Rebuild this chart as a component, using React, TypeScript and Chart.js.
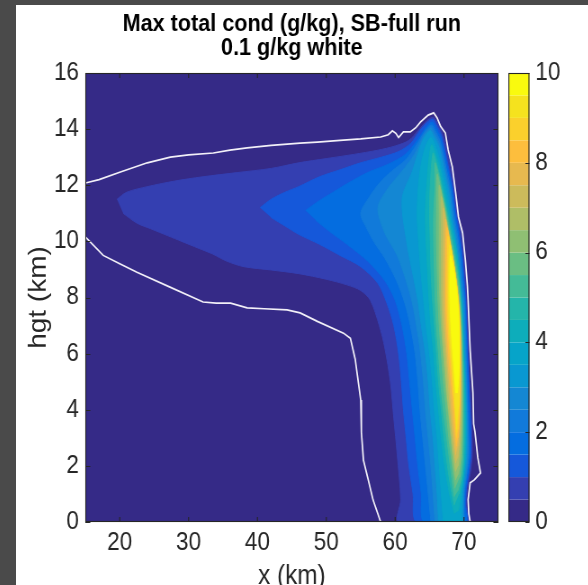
import React, { useEffect, useRef } from 'react';
import { Chart, registerables } from 'chart.js';

Chart.register(...registerables);

const FONT = "'Liberation Sans', Arial, Helvetica, sans-serif";
// the reference lettering is slightly condensed: the canvas is drawn wider and squeezed horizontally
const SQUEEZE = 0.9;
const CANVAS_W = 636;
const CANVAS_H = 580;

const titleLines = ['Max total cond (g/kg), SB-full run', '0.1 g/kg white'];
const xLabel = 'x (km)';
const yLabel = 'hgt (km)';

const xTicks = [20, 30, 40, 50, 60, 70];
const yTicks = [0, 2, 4, 6, 8, 10, 12, 14, 16];
const cbTicks = [0, 2, 4, 6, 8, 10];

// contour levels (lower bound of each filled band, g/kg)
const contourLevels = [0, 0.5, 1, 1.5, 2, 2.5, 3, 3.5, 4, 4.5, 5, 5.5, 6, 6.5, 7, 7.5, 8, 8.5, 9, 9.5];
// parula(20)
const levelColors = [
  '#352a87', '#343fb1', '#1558da', '#046de0', '#117ada', '#1487d3', '#0998d1', '#06a4c9', '#0dadbb', '#24b5aa',
  '#44bb97', '#6abe83', '#8fbf73', '#afbe67', '#ccbb5b', '#e7b94f', '#fdbe3d', '#fbd02c', '#f5e21e', '#f9fa0e',
];

// 0.1 g/kg contour (white)
const outerContour = [
  [15, 12.08], [17, 12.2], [20.1, 12.47], [24, 12.8], [27.35, 13.0], [30, 13.08], [33.6, 13.15], [36, 13.25],
  [38.5, 13.33], [42, 13.42], [46.2, 13.5], [48.7, 13.54], [52, 13.6], [55, 13.65], [57.9, 13.72], [59.0, 13.8],
  [59.6, 13.94], [60.1, 13.85], [60.5, 13.7], [61.2, 13.9], [62.2, 13.9], [63.0, 14.05], [63.7, 14.26], [64.8, 14.5],
  [65.6, 14.58], [66.1, 14.4], [66.6, 14.1], [67.3, 13.86], [67.7, 13.26], [68.3, 12.66], [68.8, 11.72], [69.2, 10.87],
  [69.8, 10.3], [70.2, 9.34], [70.5, 8.4], [70.6, 7.9], [70.9, 6.1], [71.3, 4.6], [71.4, 3.5], [71.6, 3.2],
  [72.0, 2.3], [72.4, 1.75], [71.5, 1.5], [70.9, 1.4], [70.6, 0.8], [70.7, 0.3], [70.9, 0],
];
const innerContour = [
  [15, 10.16], [17.6, 9.5], [20, 9.2], [22.5, 8.9], [27.3, 8.37], [32.1, 7.84], [34, 7.8], [36.1, 7.8],
  [38.5, 7.63], [41, 7.6], [44.3, 7.56], [46.2, 7.45], [48.7, 7.15], [52.5, 6.73], [53.5, 6.55], [54.2, 5.8],
  [55, 4.35], [55.1, 3.2], [55.4, 2.2], [56.1, 1.5], [56.8, 0.78], [57.9, 0],
];

// filled contour polygons, one per level
const c05 = [
  [19.6, 11.5], [21, 11.75], [24, 11.95], [28, 12.15], [32, 12.3], [37, 12.45], [42, 12.6], [46, 12.8], [50, 12.95],
  [54, 13.1], [57.5, 13.25], [60, 13.4], [62, 13.6], [63.5, 14.0], [64.6, 14.3], [65.5, 14.42], [66.1, 14.25],
  [66.8, 13.9], [67.4, 13.4], [67.9, 12.8], [68.5, 12.1], [68.9, 11.3], [69.4, 10.6], [69.9, 9.7], [70.2, 8.8],
  [70.4, 8.0], [70.6, 6.5], [70.85, 5.0], [71.1, 3.6], [71.2, 2.4], [70.9, 1.7], [70.5, 1.2], [70.4, 0.6], [70.5, 0],
  [60.5, 0], [60.8, 0.8], [60.3, 2.4], [59.8, 3.7], [59.3, 5.0], [58.5, 6.2], [57.7, 7.0], [56.4, 7.9], [55, 8.25],
  [53, 8.45], [50, 8.65], [46, 8.85], [42, 8.98], [38, 9.1], [35.5, 9.3], [33.5, 9.55], [31.5, 9.75], [29, 10.0],
  [27, 10.2], [24.5, 10.45], [22.5, 10.65], [20.5, 11.0],
];
const c10 = [
  [40.4, 11.2], [42, 11.5], [44, 11.75], [46, 11.95], [49, 12.3], [52, 12.55], [55, 12.8], [58, 13.0], [60.5, 13.2],
  [62.3, 13.5], [63.6, 13.95], [64.7, 14.25], [65.5, 14.35], [66.0, 14.15], [66.7, 13.8], [67.2, 13.3], [67.7, 12.7],
  [68.3, 12.0], [68.7, 11.2], [69.2, 10.5], [69.7, 9.6], [70.0, 8.7], [70.25, 7.9], [70.45, 6.5], [70.7, 5.0],
  [70.95, 3.6], [71.0, 2.4], [70.7, 1.7], [70.35, 1.2], [70.25, 0.6], [70.35, 0],
  [63.1, 0], [62.6, 1.0], [62.0, 2.0], [61.6, 3.0], [61.2, 4.0], [60.9, 5.0], [60.5, 6.0], [59.8, 7.0], [58.8, 7.8],
  [57.5, 8.5], [55, 9.1], [52, 9.5], [49, 9.9], [46, 10.25], [44, 10.55], [42, 10.85],
];
const c15 = [
  [47, 11.1], [49, 11.45], [51, 11.75], [53, 12.05], [56, 12.45], [59, 12.75], [61.5, 13.1], [63.2, 13.6],
  [64.6, 14.1], [65.4, 14.25], [65.9, 14.05], [66.6, 13.7], [67.1, 13.2], [67.6, 12.6], [68.2, 11.9], [68.6, 11.1],
  [69.1, 10.4], [69.6, 9.5], [69.9, 8.6], [70.15, 7.9], [70.35, 6.5], [70.6, 5.0], [70.75, 3.6], [70.85, 2.4],
  [70.55, 1.7], [70.2, 1.2], [70.1, 0.6], [70.2, 0],
  [64.2, 0], [63.8, 1], [63.3, 2], [62.9, 3], [62.5, 4], [62.1, 5], [61.7, 6], [61.0, 7], [60.0, 7.9], [58.5, 8.6],
  [56, 9.3], [53, 9.9], [50.5, 10.35], [48.5, 10.75],
];
const c20 = [
  [65.2, 0], [64.8, 1], [64.4, 2], [64.0, 3], [63.6, 4], [63.3, 5], [62.9, 6], [62.2, 7], [61.4, 7.8], [60.2, 8.6],
  [58.5, 9.4], [57, 9.95], [55.8, 10.5], [55, 11.0], [56.3, 11.6], [57.8, 12.1], [59.5, 12.5], [61.5, 12.9],
  [63, 13.4], [64.4, 13.95], [65.3, 14.15], [65.8, 13.95], [66.5, 13.6], [67.0, 13.1], [67.5, 12.5], [68.1, 11.8],
  [68.5, 11.0], [69.0, 10.3], [69.5, 9.4], [69.8, 8.5], [70.05, 7.9], [70.25, 6.5], [70.45, 5.0], [70.6, 3.6],
  [70.7, 2.4], [70.4, 1.7], [70.1, 1.2], [70.0, 0.6], [70.05, 0],
];
const c25 = [
  [65.8, 0], [65.5, 1], [65.2, 2], [64.8, 3], [64.4, 4], [64.1, 5], [63.7, 6], [63.1, 7], [62.5, 7.8], [61.6, 8.6],
  [60.3, 9.5], [58.5, 10.3], [57.5, 11.2], [59, 11.9], [61, 12.5], [62.8, 13.1], [64.2, 13.8], [65.2, 14.05],
  [65.7, 13.85], [66.4, 13.5], [66.9, 13.0], [67.4, 12.4], [68.0, 11.7], [68.4, 10.9], [68.9, 10.2], [69.4, 9.3],
  [69.7, 8.4], [69.95, 7.9], [70.15, 6.5], [70.35, 5.0], [70.5, 3.6], [70.55, 2.4], [70.3, 1.7], [70.0, 1.2],
  [69.9, 0.6], [69.95, 0],
];
const c30 = [
  [66.3, 0], [66.1, 1], [65.8, 2], [65.5, 3], [65.1, 4], [64.8, 5], [64.4, 6], [63.8, 7], [63.3, 7.9], [62.6, 8.8],
  [61.8, 9.8], [61, 11.5], [62.5, 12.5], [64.0, 13.6], [65.1, 13.95], [65.6, 13.75], [66.3, 13.4], [66.8, 12.9],
  [67.3, 12.3], [67.9, 11.6], [68.3, 10.8], [68.8, 10.1], [69.3, 9.2], [69.6, 8.3], [69.85, 7.8], [70.05, 6.5],
  [70.25, 5.0], [70.4, 3.6], [70.4, 2.4], [70.15, 1.7], [69.9, 1.2], [69.8, 0.6], [69.8, 0],
];
const c35 = [
  [67.0, 0], [66.7, 1], [66.4, 2], [66.1, 3], [65.7, 4], [65.4, 5], [65.0, 6], [64.5, 7], [64.1, 8], [63.7, 9],
  [63.4, 10], [63.2, 11], [63.5, 12.3], [64.3, 13.3], [65.2, 13.7], [66.0, 13.3], [66.6, 12.75], [67.1, 12.2],
  [67.7, 11.5], [68.2, 10.7], [68.7, 10.0], [69.2, 9.1], [69.5, 8.2], [69.75, 7.7], [69.95, 6.5], [70.15, 5.0],
  [70.3, 3.6], [70.25, 2.4], [70.0, 1.7], [69.75, 1.2], [69.65, 0.6], [69.6, 0],
];
const c40 = [
  [68.6, 0.3], [67.9, 1.0], [67.2, 2.0], [66.7, 3.0], [66.3, 4.0], [65.9, 5.0], [65.6, 6.0], [65.2, 7.0], [64.9, 8.0],
  [64.7, 9.0], [64.5, 10.0], [64.4, 11.0], [64.6, 12.0], [64.9, 12.9], [65.3, 13.45], [65.9, 13.1], [66.5, 12.6],
  [67.0, 12.0], [67.6, 11.3], [68.2, 10.5], [68.8, 9.8], [69.3, 8.9], [69.6, 8.0], [69.8, 7.0], [69.95, 6.0],
  [70.1, 5.0], [70.2, 3.6], [70.15, 2.4], [69.9, 1.6], [69.5, 0.9], [69.2, 0.4],
];
const c45 = [
  [68.6, 0.6], [68.1, 1.2], [67.6, 2.0], [67.1, 3.0], [66.7, 4.0], [66.3, 5.0], [66.0, 6.0], [65.7, 7.0], [65.4, 8.0],
  [65.2, 9.0], [65.1, 10.0], [65.0, 11.0], [65.1, 12.0], [65.5, 13.15], [66.0, 12.8], [66.6, 12.2], [67.1, 11.6],
  [67.7, 10.9], [68.3, 10.1], [68.9, 9.3], [69.4, 8.4], [69.7, 7.3], [69.85, 6.2], [70.0, 5.0], [70.05, 3.6],
  [70.0, 2.4], [69.75, 1.6], [69.3, 1.0],
];
const c50 = [
  [68.6, 0.9], [68.3, 1.4], [68.0, 2.0], [67.5, 3.0], [67.0, 4.0], [66.6, 5.0], [66.3, 6.0], [66.0, 7.0], [65.8, 8.0],
  [65.7, 9.0], [65.6, 10.0], [65.6, 11.0], [65.8, 12.0], [65.8, 12.8], [66.3, 12.4], [66.8, 11.8], [67.4, 11.1],
  [68.0, 10.3], [68.6, 9.5], [69.2, 8.6], [69.55, 7.6], [69.75, 6.5], [69.9, 5.0], [69.9, 3.6], [69.85, 2.4],
  [69.6, 1.6], [69.1, 1.1],
];
const c55 = [
  [68.7, 1.2], [68.3, 2.0], [67.8, 3.0], [67.4, 4.0], [67.0, 5.0], [66.7, 6.0], [66.4, 7.0], [66.2, 8.0], [66.1, 9.0],
  [66.0, 10.0], [66.0, 11.0], [66.1, 12.4], [66.6, 11.9], [67.2, 11.2], [67.8, 10.4], [68.4, 9.6], [69.0, 8.7],
  [69.45, 7.7], [69.65, 6.5], [69.8, 5.0], [69.8, 3.6], [69.7, 2.4], [69.4, 1.6],
];
const c60 = [
  [68.8, 1.5], [68.5, 2.0], [68.1, 3.0], [67.7, 4.0], [67.3, 5.0], [67.0, 6.0], [66.7, 7.0], [66.5, 8.0], [66.4, 9.0],
  [66.4, 10.0], [66.4, 11.0], [66.4, 12.0], [66.9, 11.5], [67.5, 10.7], [68.1, 9.9], [68.8, 8.9], [69.35, 7.8],
  [69.6, 6.5], [69.7, 5.0], [69.7, 3.6], [69.55, 2.4], [69.2, 1.7],
];
const c65 = [
  [68.8, 1.8], [68.4, 2.6], [68.0, 3.5], [67.6, 4.5], [67.3, 5.5], [67.0, 6.5], [66.8, 7.5], [66.7, 8.5], [66.7, 9.5],
  [66.7, 10.5], [66.7, 11.6], [67.2, 11.0], [67.8, 10.2], [68.5, 9.2], [69.2, 8.0], [69.5, 6.8], [69.6, 5.5],
  [69.6, 4.0], [69.45, 2.8], [69.15, 2.0],
];
const c70 = [
  [68.8, 2.1], [68.4, 3.0], [68.0, 4.0], [67.7, 5.0], [67.4, 6.0], [67.1, 7.0], [66.95, 8.0], [66.95, 9.0],
  [67.0, 10.2], [67.0, 11.2], [67.5, 10.5], [68.2, 9.6], [68.9, 8.5], [69.4, 7.3], [69.55, 6.0], [69.55, 4.5],
  [69.4, 3.1], [69.1, 2.3],
];
const c75 = [
  [68.8, 2.4], [68.5, 3.2], [68.2, 4.0], [67.9, 5.0], [67.55, 6.0], [67.3, 7.0], [67.2, 8.0], [67.2, 9.0],
  [67.25, 10.0], [67.3, 10.8], [67.9, 10.0], [68.6, 9.0], [69.2, 7.8], [69.5, 6.5], [69.5, 5.0], [69.4, 3.8],
  [69.1, 2.7],
];
const c80 = [
  [68.9, 2.7], [68.6, 3.5], [68.4, 4.3], [68.05, 5.2], [67.7, 6.2], [67.45, 7.2], [67.35, 8.2], [67.4, 9.2],
  [67.5, 10.5], [68.1, 9.8], [68.8, 8.7], [69.3, 7.5], [69.45, 6.2], [69.45, 5.0], [69.35, 3.8], [69.15, 3.0],
];
const c85 = [
  [68.9, 3.0], [68.7, 3.8], [68.45, 4.6], [68.2, 5.4], [67.85, 6.4], [67.6, 7.4], [67.55, 8.4], [67.6, 9.4],
  [67.7, 10.2], [68.3, 9.5], [68.9, 8.5], [69.3, 7.4], [69.4, 6.2], [69.4, 5.0], [69.3, 4.0], [69.15, 3.3],
];
const c90 = [
  [68.95, 3.3], [68.75, 4.0], [68.55, 4.8], [68.3, 5.6], [68.0, 6.5], [67.8, 7.5], [67.75, 8.5], [67.8, 9.3],
  [67.95, 9.9], [68.5, 9.2], [69.0, 8.3], [69.3, 7.3], [69.35, 6.2], [69.35, 5.0], [69.25, 4.1],
];
const c95 = [
  [68.8, 4.6], [68.6, 5.3], [68.35, 6.1], [68.1, 7.0], [67.95, 8.0], [67.95, 8.8], [68.05, 9.5], [68.6, 8.9],
  [69.0, 8.1], [69.25, 7.2], [69.3, 6.2], [69.25, 5.2], [69.05, 4.6],
];

// polygons in drawing order, with the level index each one belongs to
const contourPolys = [c05, c10, c15, c20, c25, c30, c35, c40, c45, c50, c55, c60, c65, c70, c75, c80, c85, c90, c95];
const polyLevelIndex = [1, 2, 3, 4, 5, 6, 7, 8, 9, 10, 11, 12, 13, 14, 15, 16, 17, 18, 19];

const AXIS_COLOR = '#262626';

const backgroundPlugin = {
  id: 'fieldBackground',
  beforeDatasetsDraw(chart: any) {
    const { ctx, chartArea } = chart;
    ctx.save();
    ctx.fillStyle = levelColors[0];
    ctx.fillRect(chartArea.left, chartArea.top, chartArea.width, chartArea.height);
    ctx.restore();
  },
};

const framePlugin = {
  id: 'frame',
  afterDatasetsDraw(chart: any) {
    const { ctx, chartArea } = chart;
    const { left, right, top, bottom } = chartArea;
    const xs = chart.scales.x;
    const ys = chart.scales.y;
    const tlv = 5;
    const tlh = 5 / SQUEEZE;
    ctx.save();
    ctx.strokeStyle = AXIS_COLOR;
    ctx.lineWidth = 1.1;
    ctx.beginPath();
    xTicks.forEach((v) => {
      const px = xs.getPixelForValue(v);
      ctx.moveTo(px, bottom);
      ctx.lineTo(px, bottom - tlv);
      ctx.moveTo(px, top);
      ctx.lineTo(px, top + tlv);
    });
    yTicks.forEach((v) => {
      const py = Math.round(ys.getPixelForValue(v)) + 0.5;
      ctx.moveTo(left, py);
      ctx.lineTo(left + tlh, py);
      ctx.moveTo(right, py);
      ctx.lineTo(right - tlh, py);
    });
    ctx.stroke();
    ctx.strokeRect(left + 0.5, top + 0.5, right - left - 1, bottom - top - 1);
    ctx.restore();
  },
};

const colorbarPlugin = {
  id: 'colorbar',
  afterDraw(chart: any) {
    const { ctx, chartArea } = chart;
    const cb = chart.scales.cb;
    const x0 = chartArea.right + 10 / SQUEEZE;
    const w = 21 / SQUEEZE;
    ctx.save();
    contourLevels.forEach((lv, i) => {
      const hi = i + 1 < contourLevels.length ? contourLevels[i + 1] : 10;
      const y1 = cb.getPixelForValue(hi);
      const y2 = cb.getPixelForValue(lv);
      ctx.fillStyle = levelColors[i];
      ctx.fillRect(x0, y1, w, y2 - y1);
    });
    ctx.strokeStyle = AXIS_COLOR;
    ctx.lineWidth = 1.1;
    ctx.beginPath();
    cbTicks.forEach((v) => {
      const py = Math.round(cb.getPixelForValue(v)) + 0.5;
      ctx.moveTo(x0 + w, py);
      ctx.lineTo(x0 + w - 4.5, py);
    });
    ctx.stroke();
    const yt = cb.getPixelForValue(10);
    const yb = cb.getPixelForValue(0);
    ctx.strokeRect(x0 + 0.5, Math.round(yt) + 0.5, w - 1, Math.round(yb - yt) - 1);
    ctx.restore();
  },
};

const titlePlugin = {
  id: 'figTitle',
  afterDraw(chart: any) {
    const { ctx, chartArea } = chart;
    const cx = (chartArea.left + chartArea.right) / 2;
    ctx.save();
    ctx.fillStyle = '#000';
    ctx.font = `bold 24px ${FONT}`;
    ctx.textAlign = 'center';
    ctx.textBaseline = 'middle';
    ctx.fillText(titleLines[0], cx, chartArea.top - 49);
    ctx.fillText(titleLines[1], cx, chartArea.top - 25);
    ctx.restore();
  },
};

export default function App() {
  const ref = useRef<HTMLCanvasElement>(null);

  useEffect(() => {
    document.body.style.margin = '0';
    const datasets: any[] = [];
    [outerContour, innerContour].forEach((line) => {
      datasets.push({
        type: 'line',
        data: line.map(([x, y]) => ({ x, y })),
        borderColor: '#f2f0f8',
        borderWidth: 1.7,
        pointRadius: 0,
        fill: false,
        tension: 0,
        order: 0,
        xAxisID: 'x',
        yAxisID: 'y',
      });
    });
    contourPolys.forEach((poly, i) => {
      const col = levelColors[polyLevelIndex[i]];
      datasets.push({
        type: 'line',
        data: poly.map(([x, y]) => ({ x, y })),
        borderColor: col,
        backgroundColor: col,
        borderWidth: 1,
        pointRadius: 0,
        fill: 'shape',
        tension: 0.3,
        order: 100 - i,
        xAxisID: 'x',
        yAxisID: 'y',
      });
    });

    const tickFont = { family: FONT, size: 25 };
    const chart = new Chart(ref.current as HTMLCanvasElement, {
      type: 'scatter',
      data: { datasets },
      options: {
        animation: false,
        responsive: false,
        maintainAspectRatio: false,
        events: [],
        layout: { padding: { top: 68, left: 0, right: 0, bottom: 0 } },
        plugins: {
          legend: { display: false },
          tooltip: { enabled: false },
          title: { display: false },
        },
        scales: {
          x: {
            type: 'linear',
            position: 'bottom',
            min: 15,
            max: 75,
            afterFit: (s: any) => { s.height = 63; },
            afterBuildTicks: (s: any) => { s.ticks = xTicks.map((v) => ({ value: v })); },
            grid: { display: false, drawTicks: false },
            border: { display: false },
            ticks: { font: tickFont, color: AXIS_COLOR, padding: 6, maxRotation: 0, autoSkip: false },
            title: {
              display: true,
              text: xLabel,
              font: { family: FONT, size: 27, lineHeight: 1.2 },
              color: AXIS_COLOR,
              padding: { top: 0, bottom: -8 },
            },
          },
          y: {
            type: 'linear',
            position: 'left',
            min: 0,
            max: 16,
            afterFit: (s: any) => { s.width = 77; },
            afterBuildTicks: (s: any) => { s.ticks = yTicks.map((v) => ({ value: v })); },
            grid: { display: false, drawTicks: false },
            border: { display: false },
            ticks: { font: tickFont, color: AXIS_COLOR, padding: 7, autoSkip: false },
            title: {
              display: true,
              text: yLabel,
              font: { family: FONT, size: 28, lineHeight: 1.2 },
              color: AXIS_COLOR,
              padding: { top: 8, bottom: 0 },
            },
          },
          cb: {
            type: 'linear',
            position: 'right',
            min: 0,
            max: 10,
            afterFit: (s: any) => { s.width = 100; },
            afterBuildTicks: (s: any) => { s.ticks = cbTicks.map((v) => ({ value: v })); },
            grid: { display: false, drawTicks: false },
            border: { display: false },
            ticks: { font: tickFont, color: AXIS_COLOR, padding: 41, autoSkip: false },
          },
        },
      },
      plugins: [backgroundPlugin, framePlugin, colorbarPlugin, titlePlugin],
    } as any);
    return () => chart.destroy();
  }, []);

  return (
    <div style={{ position: 'relative', width: 588, height: 585, background: '#4a4a4a', overflow: 'hidden' }}>
      <div style={{ position: 'absolute', left: 16, top: 5, width: 572, height: 580, background: '#ffffff', overflow: 'hidden' }}>
        <canvas
          ref={ref}
          width={CANVAS_W}
          height={CANVAS_H}
          style={{
            display: 'block',
            width: CANVAS_W,
            height: CANVAS_H,
            transform: `scaleX(${SQUEEZE})`,
            transformOrigin: '0 0',
          }}
        />
      </div>
    </div>
  );
}
